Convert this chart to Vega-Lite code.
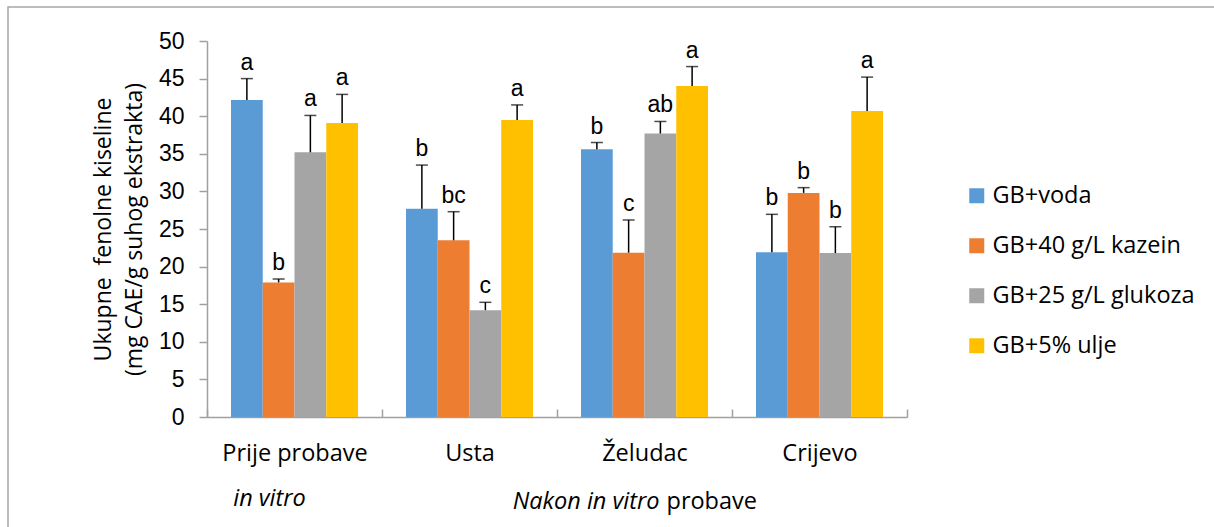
{
  "$schema": "https://vega.github.io/schema/vega-lite/v6.json",
  "width": 1206,
  "height": 520,
  "autosize": {"type": "none"},
  "padding": {"left": 8, "top": 7, "right": 0, "bottom": 0},
  "background": "white",
  "config": {
    "view": {"stroke": "#a6a6a6", "strokeWidth": 1.5, "strokeDash": [1206, 1726, 520]},
    "axis": {"grid": false}
  },
  "data": {
    "values": [
      {"stage": "Prije probave", "group": "GB+voda", "value": 42.15, "err": 45.0, "letter": "a"},
      {"stage": "Prije probave", "group": "GB+40 g/L kazein", "value": 17.9, "err": 18.35, "letter": "b"},
      {"stage": "Prije probave", "group": "GB+25 g/L glukoza", "value": 35.2, "err": 40.1, "letter": "a"},
      {"stage": "Prije probave", "group": "GB+5% ulje", "value": 39.1, "err": 42.9, "letter": "a"},
      {"stage": "Usta", "group": "GB+voda", "value": 27.7, "err": 33.5, "letter": "b"},
      {"stage": "Usta", "group": "GB+40 g/L kazein", "value": 23.5, "err": 27.3, "letter": "bc"},
      {"stage": "Usta", "group": "GB+25 g/L glukoza", "value": 14.2, "err": 15.25, "letter": "c"},
      {"stage": "Usta", "group": "GB+5% ulje", "value": 39.5, "err": 41.5, "letter": "a"},
      {"stage": "Želudac", "group": "GB+voda", "value": 35.6, "err": 36.5, "letter": "b"},
      {"stage": "Želudac", "group": "GB+40 g/L kazein", "value": 21.85, "err": 26.2, "letter": "c"},
      {"stage": "Želudac", "group": "GB+25 g/L glukoza", "value": 37.7, "err": 39.3, "letter": "ab"},
      {"stage": "Želudac", "group": "GB+5% ulje", "value": 44.0, "err": 46.6, "letter": "a"},
      {"stage": "Crijevo", "group": "GB+voda", "value": 21.9, "err": 26.95, "letter": "b"},
      {"stage": "Crijevo", "group": "GB+40 g/L kazein", "value": 29.8, "err": 30.5, "letter": "b"},
      {"stage": "Crijevo", "group": "GB+25 g/L glukoza", "value": 21.8, "err": 25.3, "letter": "b"},
      {"stage": "Crijevo", "group": "GB+5% ulje", "value": 40.7, "err": 45.2, "letter": "a"}
    ]
  },
  "layer": [
    {
      "mark": {"type": "bar"},
      "encoding": {
        "x": {
          "field": "stage", "type": "nominal",
          "sort": ["Prije probave", "Usta", "Želudac", "Crijevo"],
          "scale": {"domain": ["Prije probave", "Usta", "Želudac", "Crijevo"], "range": [199, 899], "paddingInner": 0, "paddingOuter": 0},
          "axis": {
            "title": null, "labelAngle": 0, "offset": -110,
            "tickBand": "extent", "tickSize": -8, "tickColor": "#a0a0a0", "tickWidth": 1.5,
            "domainColor": "#a0a0a0", "domainWidth": 1.5,
            "labelFont": "Open Sans", "labelFontSize": 23.5, "labelColor": "#000000",
            "labelPadding": 32, "labelBaseline": "top"
          }
        },
        "xOffset": {
          "field": "group", "type": "nominal",
          "sort": ["GB+voda", "GB+40 g/L kazein", "GB+25 g/L glukoza", "GB+5% ulje"],
          "scale": {"paddingInner": 0, "paddingOuter": 0.756}
        },
        "y": {
          "field": "value", "type": "quantitative",
          "scale": {"domain": [0, 50], "range": [410, 34], "nice": false},
          "axis": {
            "title": ["Ukupne \u00a0fenolne kiseline", "(mg CAE/g suhog ekstrakta)"],
            "titleFont": "Open Sans", "titleFontSize": 23, "titleFontWeight": "normal",
            "titleColor": "#000000", "titlePadding": 12, "titleLineHeight": 31,
            "offset": -199,
            "values": [0, 5, 10, 15, 20, 25, 30, 35, 40, 45, 50],
            "tickSize": 8, "tickColor": "#a0a0a0", "tickWidth": 1.5,
            "domainColor": "#a0a0a0", "domainWidth": 1.5,
            "labelFont": "Liberation Sans", "labelFontSize": 23, "labelColor": "#000000",
            "labelPadding": 15
          }
        },
        "color": {
          "field": "group", "type": "nominal",
          "scale": {
            "domain": ["GB+voda", "GB+40 g/L kazein", "GB+25 g/L glukoza", "GB+5% ulje"],
            "range": ["#5b9bd5", "#ed7d31", "#a5a5a5", "#ffc000"]
          },
          "legend": {
            "title": null, "orient": "none", "legendX": 957, "legendY": 177,
            "padding": 0, "symbolType": "square", "symbolSize": 225, "symbolStrokeWidth": 0,
            "labelFont": "Open Sans", "labelFontSize": 23.5, "labelColor": "#000000", "labelLimit": 400,
            "labelOffset": 4, "rowPadding": 25
          }
        }
      }
    },
    {
      "mark": {"type": "rule", "color": "#000000", "strokeWidth": 1.5},
      "encoding": {
        "x": {"field": "stage", "type": "nominal", "sort": ["Prije probave", "Usta", "Želudac", "Crijevo"]},
        "xOffset": {"field": "group", "type": "nominal", "sort": ["GB+voda", "GB+40 g/L kazein", "GB+25 g/L glukoza", "GB+5% ulje"]},
        "y": {"field": "value", "type": "quantitative"},
        "y2": {"field": "err"}
      }
    },
    {
      "mark": {"type": "tick", "color": "#000000", "thickness": 1.5, "size": 12, "orient": "horizontal"},
      "encoding": {
        "x": {"field": "stage", "type": "nominal", "sort": ["Prije probave", "Usta", "Želudac", "Crijevo"]},
        "xOffset": {"field": "group", "type": "nominal", "sort": ["GB+voda", "GB+40 g/L kazein", "GB+25 g/L glukoza", "GB+5% ulje"]},
        "y": {"field": "err", "type": "quantitative"}
      }
    },
    {
      "mark": {"type": "text", "font": "Liberation Sans", "fontSize": 23, "color": "#000000", "baseline": "alphabetic", "dy": -9},
      "encoding": {
        "x": {"field": "stage", "type": "nominal", "sort": ["Prije probave", "Usta", "Želudac", "Crijevo"]},
        "xOffset": {"field": "group", "type": "nominal", "sort": ["GB+voda", "GB+40 g/L kazein", "GB+25 g/L glukoza", "GB+5% ulje"]},
        "y": {"field": "err", "type": "quantitative"},
        "text": {"field": "letter"}
      }
    },
    {
      "data": {"values": [{"stage": "Prije probave", "label": "in vitro"}]},
      "mark": {"type": "text", "font": "Open Sans", "fontSize": 23.5, "fontStyle": "italic", "color": "#000000", "baseline": "alphabetic", "align": "center", "dx": -25, "dy": 89},
      "encoding": {
        "x": {"field": "stage", "type": "nominal", "sort": ["Prije probave", "Usta", "Želudac", "Crijevo"]},
        "y": {"datum": 0, "type": "quantitative"},
        "text": {"field": "label"}
      }
    },
    {
      "data": {"values": [{"stage": "Želudac", "label": "Nakon in vitro"}]},
      "mark": {"type": "text", "font": "Open Sans", "fontSize": 23.5, "fontStyle": "italic", "color": "#000000", "baseline": "alphabetic", "align": "right", "dx": 15, "dy": 92},
      "encoding": {
        "x": {"field": "stage", "type": "nominal", "sort": ["Prije probave", "Usta", "Želudac", "Crijevo"]},
        "y": {"datum": 0, "type": "quantitative"},
        "text": {"field": "label"}
      }
    },
    {
      "data": {"values": [{"stage": "Želudac", "label": "probave"}]},
      "mark": {"type": "text", "font": "Open Sans", "fontSize": 23.5, "color": "#000000", "baseline": "alphabetic", "align": "left", "dx": 22, "dy": 92},
      "encoding": {
        "x": {"field": "stage", "type": "nominal", "sort": ["Prije probave", "Usta", "Želudac", "Crijevo"]},
        "y": {"datum": 0, "type": "quantitative"},
        "text": {"field": "label"}
      }
    }
  ]
}
